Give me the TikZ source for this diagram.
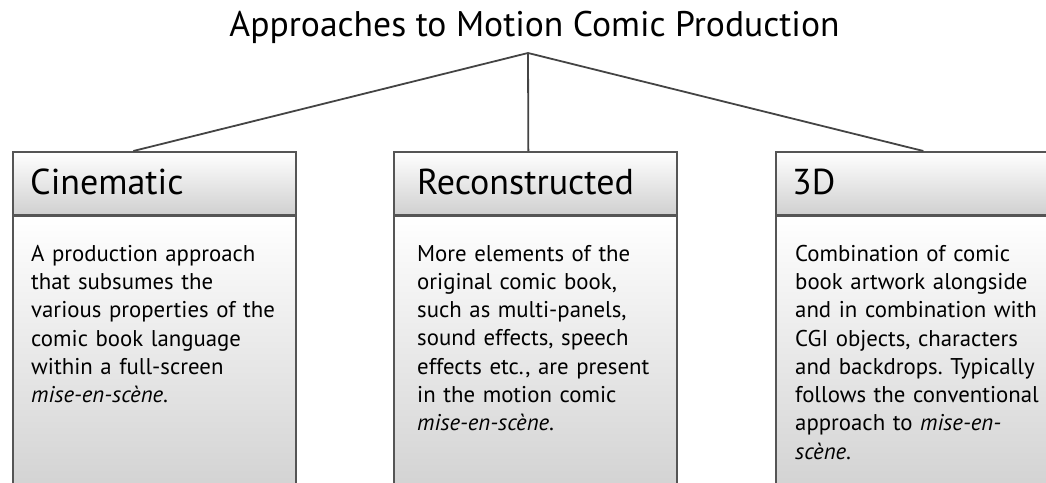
\documentclass[tikz,border=0pt]{standalone}
\usepackage{fontspec}
\setmainfont{PT Sans}
\usetikzlibrary{positioning}
\definecolor{edgegray}{RGB}{85,85,85}
\definecolor{linegray}{RGB}{68,68,68}
\definecolor{shadegray}{RGB}{208,208,208}
\frenchspacing
\begin{document}
\begin{tikzpicture}[x=1pt,y=-1pt,
  box/.style={draw=edgegray,line width=1.7pt,anchor=north west,minimum width=283pt,top color=white,bottom color=shadegray,inner sep=0pt},
  head/.style={box,minimum height=63pt},
  body/.style={box,minimum height=290pt},
  headlabel/.style={anchor=west,inner sep=0pt,text height=23pt,text depth=0pt,font=\fontsize{36}{42}\selectfont},
  blurb/.style={anchor=north west,inner sep=0pt,text width=280pt,align=left,font=\fontsize{22.8}{28.3}\selectfont},
  branch/.style={draw=linegray,line width=1.8pt}]
\useasboundingbox (0,0) rectangle (1046,482);
\clip (0,0) rectangle (1046,482);
\node[font=\fontsize{35.6}{42}\selectfont,anchor=base,inner sep=0pt] (title) at (534.5,36) {Approaches to Motion Comic Production};
\coordinate (apex) at (528,53);
\node[body] (cinbody) at (12,214) {};
\node[body] (recbody) at (393,214) {};
\node[body] (threebody) at (775,214) {};
\node[head] (cinbox) at (12,151) {};
\node[head] (recbox) at (393,151) {};
\node[head] (threebox) at (775,151) {};
\draw[edgegray,line width=2.6pt] (cinbox.south west) -- (cinbox.south east);
\draw[edgegray,line width=2.6pt] (recbox.south west) -- (recbox.south east);
\draw[edgegray,line width=2.6pt] (threebox.south west) -- (threebox.south east);
\draw[branch] (apex) -- ([xshift=-21pt]cinbox.north);
\draw[branch] (apex) -- ([xshift=-7pt]recbox.north);
\draw[branch] (apex) -- ([xshift=6pt]threebox.north);
\node[headlabel,right=18pt of cinbox.west] (cinlabel) {Cinematic};
\node[headlabel,right=24pt of recbox.west] (reclabel) {Reconstructed};
\node[headlabel,right=17pt of threebox.west] (threelabel) {3D};
\node[blurb,below right=29pt and 19pt of cinbox.south west] (cintext) {A production approach\\that subsumes the\\various properties of the\\comic book language\\within a full-screen\\\textit{mise-en-scène}.};
\node[blurb,below right=29pt and 24pt of recbox.south west] (rectext) {More elements of the\\original comic book,\\such as multi-panels,\\sound effects, speech\\effects etc., are present\\in the motion comic\\\textit{mise-en-scène}.};
\node[blurb,below right=29pt and 20pt of threebox.south west] (threetext) {Combination of comic\\book artwork alongside\\and in combination with\\CGI objects, characters\\and backdrops. Typically\\follows the conventional\\approach to \textit{mise-en-}\\\textit{scène}.};
\end{tikzpicture}
\end{document}
